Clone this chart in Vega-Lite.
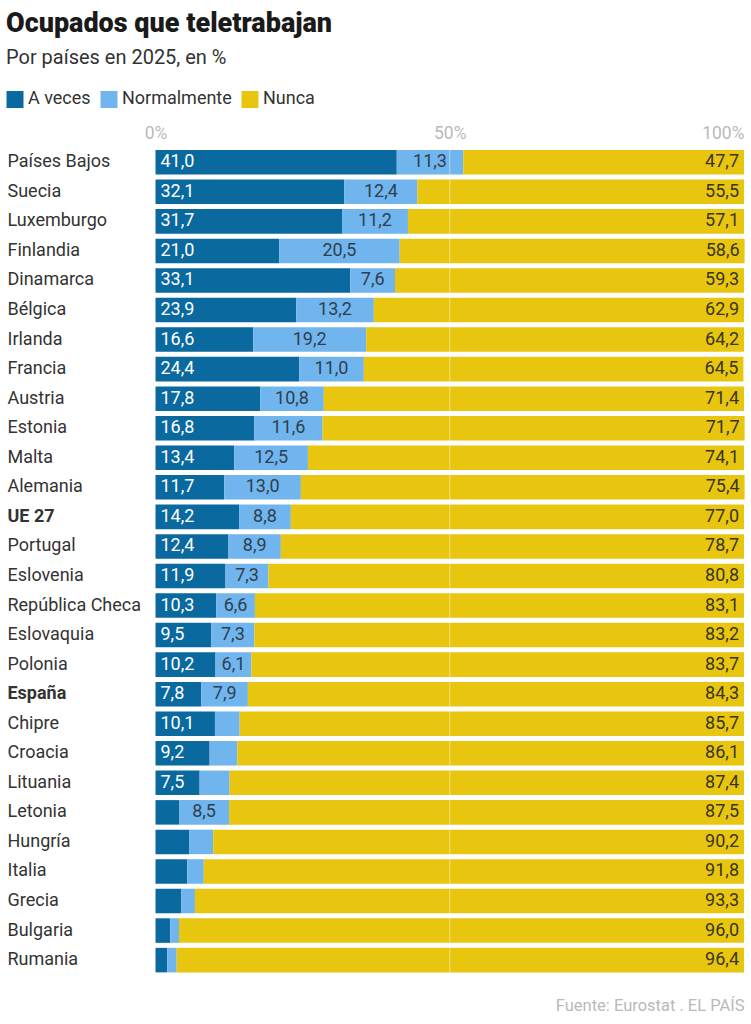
{"$schema":"https://vega.github.io/schema/vega-lite/v6.json","width":588.5,"height":827.4,"autosize":{"type":"none"},"padding":{"left":155.5,"top":147.5,"right":7,"bottom":49},"background":"white","config":{"view":{"stroke":null},"font":"Roboto"},
"title":{"text":"Ocupados que teletrabajan","subtitle":"Por países en 2025, en %","anchor":"start","frame":"group","dx":-149.5,"offset":21,"font":"Roboto","fontSize":27,"fontWeight":900,"color":"#1a1a1a","subtitleFont":"Roboto","subtitleFontSize":20,"subtitleColor":"#333333","subtitlePadding":10},
"data":{"values":[
{"pais":"Países Bajos","serie":"A veces","valor":41.0,"etiqueta":"41,0"},{"pais":"Países Bajos","serie":"Normalmente","valor":11.3,"etiqueta":"11,3"},{"pais":"Países Bajos","serie":"Nunca","valor":47.7,"etiqueta":"47,7"},
{"pais":"Suecia","serie":"A veces","valor":32.1,"etiqueta":"32,1"},{"pais":"Suecia","serie":"Normalmente","valor":12.4,"etiqueta":"12,4"},{"pais":"Suecia","serie":"Nunca","valor":55.5,"etiqueta":"55,5"},
{"pais":"Luxemburgo","serie":"A veces","valor":31.7,"etiqueta":"31,7"},{"pais":"Luxemburgo","serie":"Normalmente","valor":11.2,"etiqueta":"11,2"},{"pais":"Luxemburgo","serie":"Nunca","valor":57.1,"etiqueta":"57,1"},
{"pais":"Finlandia","serie":"A veces","valor":21.0,"etiqueta":"21,0"},{"pais":"Finlandia","serie":"Normalmente","valor":20.5,"etiqueta":"20,5"},{"pais":"Finlandia","serie":"Nunca","valor":58.6,"etiqueta":"58,6"},
{"pais":"Dinamarca","serie":"A veces","valor":33.1,"etiqueta":"33,1"},{"pais":"Dinamarca","serie":"Normalmente","valor":7.6,"etiqueta":"7,6"},{"pais":"Dinamarca","serie":"Nunca","valor":59.3,"etiqueta":"59,3"},
{"pais":"Bélgica","serie":"A veces","valor":23.9,"etiqueta":"23,9"},{"pais":"Bélgica","serie":"Normalmente","valor":13.2,"etiqueta":"13,2"},{"pais":"Bélgica","serie":"Nunca","valor":62.9,"etiqueta":"62,9"},
{"pais":"Irlanda","serie":"A veces","valor":16.6,"etiqueta":"16,6"},{"pais":"Irlanda","serie":"Normalmente","valor":19.2,"etiqueta":"19,2"},{"pais":"Irlanda","serie":"Nunca","valor":64.2,"etiqueta":"64,2"},
{"pais":"Francia","serie":"A veces","valor":24.4,"etiqueta":"24,4"},{"pais":"Francia","serie":"Normalmente","valor":11.0,"etiqueta":"11,0"},{"pais":"Francia","serie":"Nunca","valor":64.5,"etiqueta":"64,5"},
{"pais":"Austria","serie":"A veces","valor":17.8,"etiqueta":"17,8"},{"pais":"Austria","serie":"Normalmente","valor":10.8,"etiqueta":"10,8"},{"pais":"Austria","serie":"Nunca","valor":71.4,"etiqueta":"71,4"},
{"pais":"Estonia","serie":"A veces","valor":16.8,"etiqueta":"16,8"},{"pais":"Estonia","serie":"Normalmente","valor":11.6,"etiqueta":"11,6"},{"pais":"Estonia","serie":"Nunca","valor":71.7,"etiqueta":"71,7"},
{"pais":"Malta","serie":"A veces","valor":13.4,"etiqueta":"13,4"},{"pais":"Malta","serie":"Normalmente","valor":12.5,"etiqueta":"12,5"},{"pais":"Malta","serie":"Nunca","valor":74.1,"etiqueta":"74,1"},
{"pais":"Alemania","serie":"A veces","valor":11.7,"etiqueta":"11,7"},{"pais":"Alemania","serie":"Normalmente","valor":13.0,"etiqueta":"13,0"},{"pais":"Alemania","serie":"Nunca","valor":75.4,"etiqueta":"75,4"},
{"pais":"UE 27","serie":"A veces","valor":14.2,"etiqueta":"14,2"},{"pais":"UE 27","serie":"Normalmente","valor":8.8,"etiqueta":"8,8"},{"pais":"UE 27","serie":"Nunca","valor":77.0,"etiqueta":"77,0"},
{"pais":"Portugal","serie":"A veces","valor":12.4,"etiqueta":"12,4"},{"pais":"Portugal","serie":"Normalmente","valor":8.9,"etiqueta":"8,9"},{"pais":"Portugal","serie":"Nunca","valor":78.7,"etiqueta":"78,7"},
{"pais":"Eslovenia","serie":"A veces","valor":11.9,"etiqueta":"11,9"},{"pais":"Eslovenia","serie":"Normalmente","valor":7.3,"etiqueta":"7,3"},{"pais":"Eslovenia","serie":"Nunca","valor":80.8,"etiqueta":"80,8"},
{"pais":"República Checa","serie":"A veces","valor":10.3,"etiqueta":"10,3"},{"pais":"República Checa","serie":"Normalmente","valor":6.6,"etiqueta":"6,6"},{"pais":"República Checa","serie":"Nunca","valor":83.1,"etiqueta":"83,1"},
{"pais":"Eslovaquia","serie":"A veces","valor":9.5,"etiqueta":"9,5"},{"pais":"Eslovaquia","serie":"Normalmente","valor":7.3,"etiqueta":"7,3"},{"pais":"Eslovaquia","serie":"Nunca","valor":83.2,"etiqueta":"83,2"},
{"pais":"Polonia","serie":"A veces","valor":10.2,"etiqueta":"10,2"},{"pais":"Polonia","serie":"Normalmente","valor":6.1,"etiqueta":"6,1"},{"pais":"Polonia","serie":"Nunca","valor":83.7,"etiqueta":"83,7"},
{"pais":"España","serie":"A veces","valor":7.8,"etiqueta":"7,8"},{"pais":"España","serie":"Normalmente","valor":7.9,"etiqueta":"7,9"},{"pais":"España","serie":"Nunca","valor":84.3,"etiqueta":"84,3"},
{"pais":"Chipre","serie":"A veces","valor":10.1,"etiqueta":"10,1"},{"pais":"Chipre","serie":"Normalmente","valor":4.2,"etiqueta":""},{"pais":"Chipre","serie":"Nunca","valor":85.7,"etiqueta":"85,7"},
{"pais":"Croacia","serie":"A veces","valor":9.2,"etiqueta":"9,2"},{"pais":"Croacia","serie":"Normalmente","valor":4.7,"etiqueta":""},{"pais":"Croacia","serie":"Nunca","valor":86.1,"etiqueta":"86,1"},
{"pais":"Lituania","serie":"A veces","valor":7.5,"etiqueta":"7,5"},{"pais":"Lituania","serie":"Normalmente","valor":5.1,"etiqueta":""},{"pais":"Lituania","serie":"Nunca","valor":87.4,"etiqueta":"87,4"},
{"pais":"Letonia","serie":"A veces","valor":4.0,"etiqueta":""},{"pais":"Letonia","serie":"Normalmente","valor":8.5,"etiqueta":"8,5"},{"pais":"Letonia","serie":"Nunca","valor":87.5,"etiqueta":"87,5"},
{"pais":"Hungría","serie":"A veces","valor":5.7,"etiqueta":""},{"pais":"Hungría","serie":"Normalmente","valor":4.1,"etiqueta":""},{"pais":"Hungría","serie":"Nunca","valor":90.2,"etiqueta":"90,2"},
{"pais":"Italia","serie":"A veces","valor":5.4,"etiqueta":""},{"pais":"Italia","serie":"Normalmente","valor":2.8,"etiqueta":""},{"pais":"Italia","serie":"Nunca","valor":91.8,"etiqueta":"91,8"},
{"pais":"Grecia","serie":"A veces","valor":4.4,"etiqueta":""},{"pais":"Grecia","serie":"Normalmente","valor":2.3,"etiqueta":""},{"pais":"Grecia","serie":"Nunca","valor":93.3,"etiqueta":"93,3"},
{"pais":"Bulgaria","serie":"A veces","valor":2.5,"etiqueta":""},{"pais":"Bulgaria","serie":"Normalmente","valor":1.5,"etiqueta":""},{"pais":"Bulgaria","serie":"Nunca","valor":96.0,"etiqueta":"96,0"},
{"pais":"Rumania","serie":"A veces","valor":2.0,"etiqueta":""},{"pais":"Rumania","serie":"Normalmente","valor":1.6,"etiqueta":""},{"pais":"Rumania","serie":"Nunca","valor":96.4,"etiqueta":"96,4"}
]},
"transform":[{"stack":"valor","groupby":["pais"],"sort":[{"field":"serie","order":"ascending"}],"as":["x0","x1"]},{"calculate":"(datum.x0+datum.x1)/2","as":"xm"}],
"encoding":{"y":{"field":"pais","type":"nominal","sort":null,"scale":{"paddingInner":0.17,"paddingOuter":0.085},"axis":{"title":null,"orient":"left","domain":false,"ticks":false,"labelAlign":"left","labelPadding":148.5,"labelFontSize":18,"labelColor":"#333333","labelFont":"Roboto","labelLimit":200,"labelFontWeight":{"condition":{"test":"datum.value=='UE 27'||datum.value=='España'","value":"bold"},"value":"normal"}}}},
"layer":[
{"mark":{"type":"bar"},"encoding":{"x":{"field":"x0","type":"quantitative","scale":{"domain":[0,100],"nice":false},"axis":{"orient":"top","title":null,"values":[0,50,100],"domain":false,"ticks":false,"grid":false,"labelExpr":"datum.value+'%'","labelFontSize":17.5,"labelColor":"#b9b9b9","labelPadding":5,"labelAlign":{"expr":"datum.value==100?'right':'center'"}}},"x2":{"field":"x1"},"color":{"field":"serie","type":"nominal","scale":{"domain":["A veces","Normalmente","Nunca"],"range":["#0a699f","#70b5ee","#e8c50f"]},"legend":{"title":null,"orient":"none","legendX":-149.5,"legendY":-57,"direction":"horizontal","symbolType":"square","symbolSize":289,"symbolStrokeWidth":0,"symbolOpacity":1,"labelFontSize":18,"labelColor":"#333333","labelOffset":4,"columnPadding":9,"gridAlign":"none"}}}},
{"transform":[{"filter":"datum.serie=='A veces'&&datum.pais=='Suecia'"}],"mark":{"type":"rule","opacity":0},"encoding":{"x":{"datum":50,"type":"quantitative","axis":{"orient":"bottom","title":"Fuente: Eurostat . EL PAÍS","titleAnchor":"end","titleFontSize":16.5,"titleFontWeight":"normal","titleColor":"#b9b9b9","titlePadding":23,"domain":false,"ticks":false,"labels":false,"grid":false}},"y":{"value":0},"y2":{"value":827.4}}},
{"transform":[{"filter":"datum.serie=='A veces'&&datum.pais=='Suecia'"}],"mark":{"type":"rule","stroke":"white","strokeWidth":1,"opacity":0.45},"encoding":{"x":{"datum":50,"type":"quantitative","axis":null},"y":{"value":0},"y2":{"value":827.4}}},
{"transform":[{"filter":"datum.serie=='A veces'"}],"mark":{"type":"text","align":"left","dx":5,"fontSize":18,"color":"white"},"encoding":{"x":{"field":"x0","type":"quantitative","axis":null},"text":{"field":"etiqueta"}}},
{"transform":[{"filter":"datum.serie=='Normalmente'"}],"mark":{"type":"text","align":"center","fontSize":18,"color":"#2f3f4f"},"encoding":{"x":{"field":"xm","type":"quantitative","axis":null},"text":{"field":"etiqueta"}}},
{"transform":[{"filter":"datum.serie=='Nunca'"}],"mark":{"type":"text","align":"right","dx":-5,"fontSize":18,"color":"#3a3520"},"encoding":{"x":{"field":"x1","type":"quantitative","axis":null},"text":{"field":"etiqueta"}}}
],
"resolve":{"axis":{"x":"independent"}}}
